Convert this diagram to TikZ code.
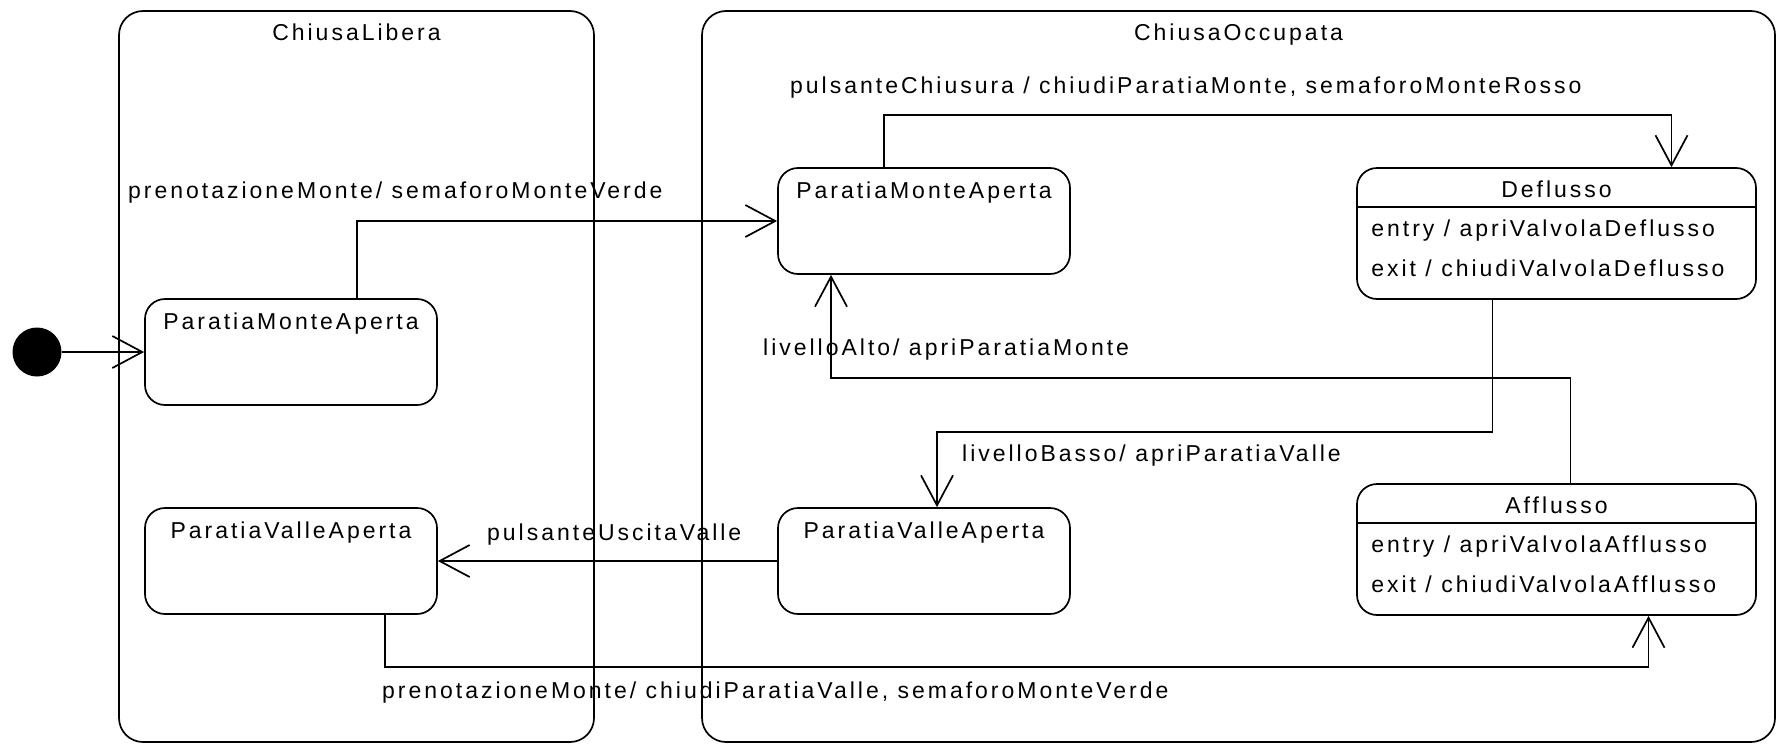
\documentclass[tikz,border=0pt]{standalone}
\usepackage{fontspec}
\setmainfont{Liberation Sans}[LetterSpace=13]
\usetikzlibrary{positioning,arrows.meta}
\tikzset{contenitore/.style={draw,line width=1.7pt,rounded corners=24pt,minimum height=731pt,inner sep=0pt},stato/.style={draw,line width=1.7pt,fill=white,rounded corners=20pt,minimum width=292pt,minimum height=106pt,inner sep=0pt,text height=30pt,text depth=76pt},attivo/.style={stato,minimum width=399pt,minimum height=131pt,text height=29pt,text depth=102pt},testo/.style={inner sep=0pt},trans/.style={draw,line width=1.7pt,-{Straight Barb[length=30pt,width=32pt]}}}

\begin{document}
\begin{tikzpicture}[x=1pt,y=-1pt,font=\fontsize{23}{27}\selectfont]
\useasboundingbox (0,0) rectangle (1777,744);
\node[contenitore,minimum width=475pt] (lib) at (356.5,376.5) {};
\node[contenitore,minimum width=1073pt] (occ) at (1238.5,376.5) {};
\node[testo,below=13pt of lib.north] (libT) {ChiusaLibera};
\node[testo,below=13pt of occ.north] (occT) {ChiusaOccupata};
\node[circle,fill,minimum size=49pt,inner sep=0pt] (ini) at (37,352) {};
\node[stato] (lpma) at (291,352) {ParatiaMonteAperta};
\node[stato] (lpva) at (291,561) {ParatiaValleAperta};
\node[stato] (mpma) at (924,221) {ParatiaMonteAperta};
\node[stato] (mpva) at (924,561) {ParatiaValleAperta};
\node[attivo] (defl) at (1556.5,233.5) {Deflusso};
\node[attivo] (affl) at (1556.5,549.5) {Afflusso};
\foreach \s/\a/\b in {defl/apriValvolaDeflusso/chiudiValvolaDeflusso,affl/apriValvolaAfflusso/chiudiValvolaAfflusso}{
\draw[line width=1.7pt] ([yshift=-40pt]\s.north west) -- ([yshift=-40pt]\s.north east);
\node[testo,anchor=base west] (\s-in) at ([shift={(15,69)}]\s.north west) {entry / \a};
\node[testo,anchor=base west] (\s-out) at ([shift={(15,109)}]\s.north west) {exit / \b};
}
\draw[trans] (ini) -- (lpma);
\draw[trans] ([xshift=66pt]lpma.north) |- (mpma.west);
\draw[trans] ([xshift=-40pt]mpma.north) -- ++(0,-52) -| ([xshift=115pt]defl.north);
\draw[trans] ([xshift=-64pt]defl.south) -- ++(0,132) -| ([xshift=13pt]mpva.north);
\draw[trans] ([xshift=14pt]affl.north) -- ++(0,-105) -| ([xshift=-93pt]mpma.south);
\draw[trans] (mpva) -- (lpva);
\draw[trans] ([xshift=94pt]lpva.south) -- ++(0,52) -| ([xshift=92pt]affl.south);
\node[testo,anchor=base west] (e1) at (128,198) {prenotazioneMonte/ semaforoMonteVerde};
\node[testo,anchor=base west] (e2) at (790,93) {pulsanteChiusura / chiudiParatiaMonte, semaforoMonteRosso};
\node[testo,anchor=base west] (e3) at (962,461) {livelloBasso/ apriParatiaValle};
\node[testo,anchor=base west] (e4) at (763,355) {livelloAlto/ apriParatiaMonte};
\node[testo,anchor=base west] (e5) at (487,540) {pulsanteUscitaValle};
\node[testo,anchor=base west] (e6) at (382,698) {prenotazioneMonte/ chiudiParatiaValle, semaforoMonteVerde};
\end{tikzpicture}
\end{document}
